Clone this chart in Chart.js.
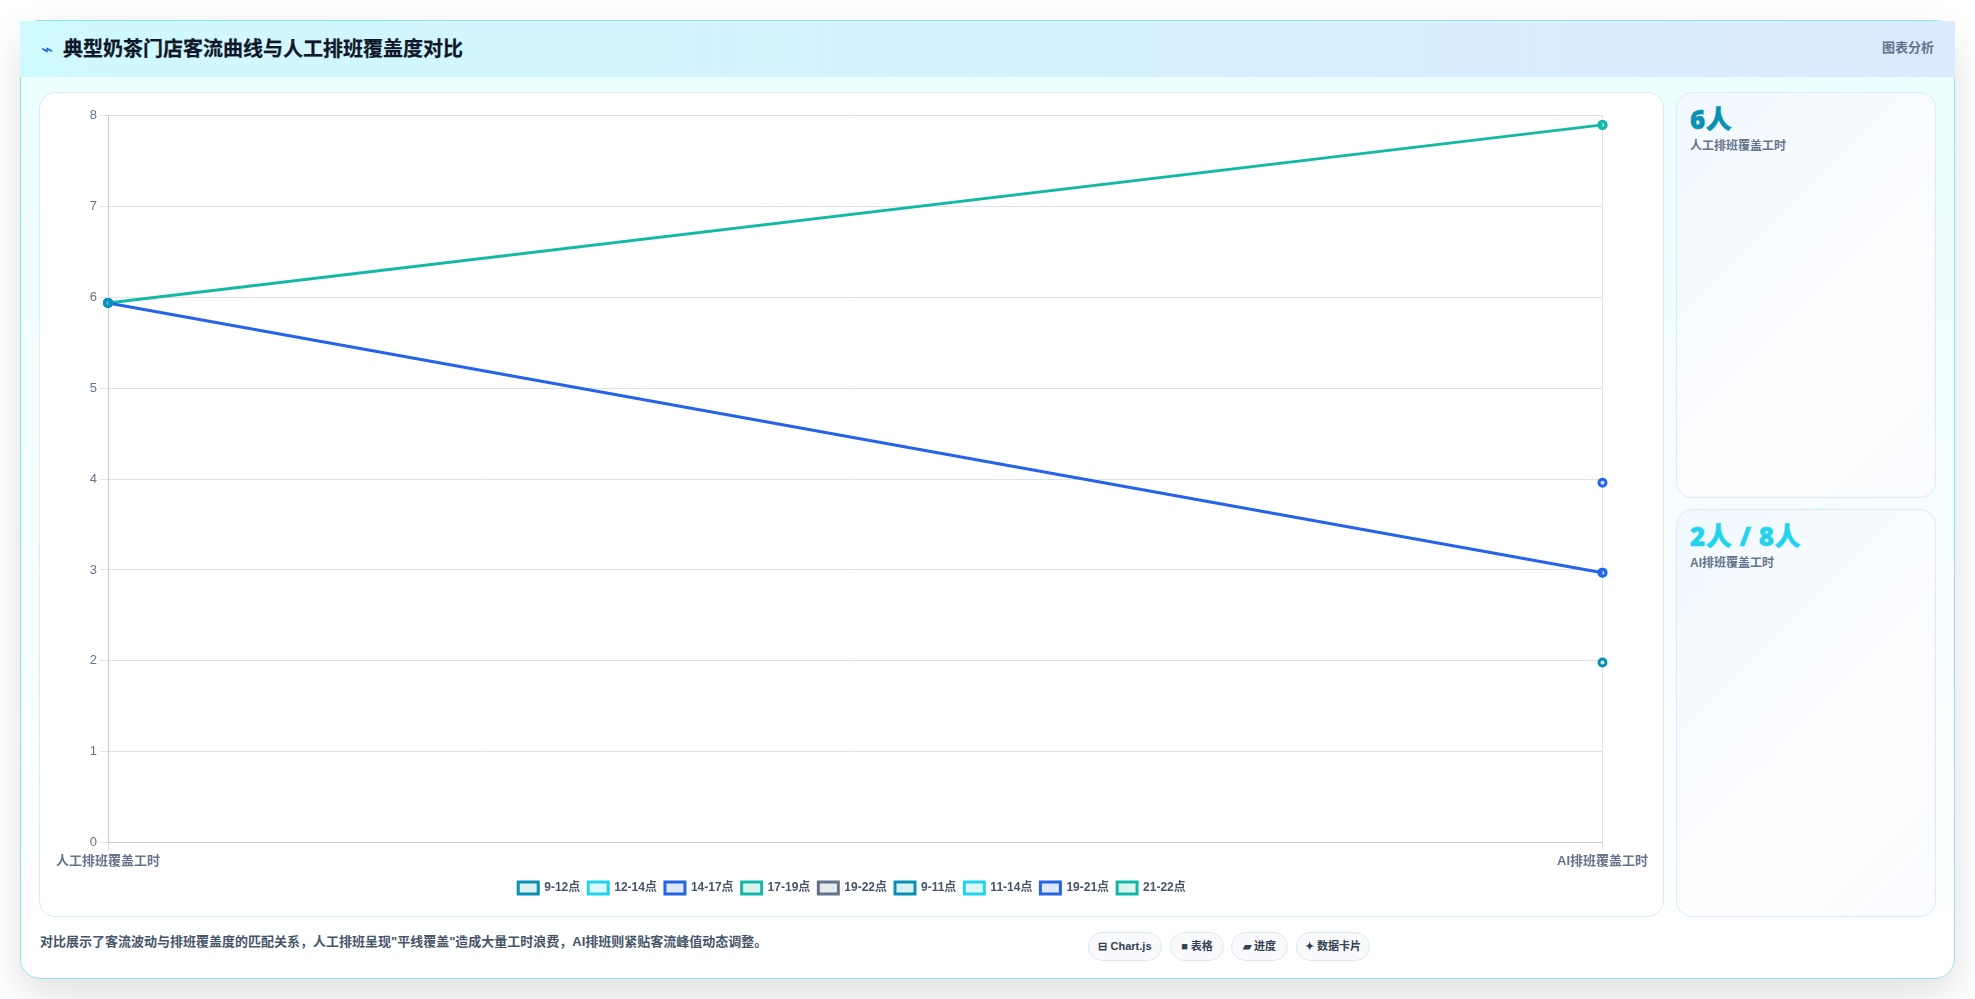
<!DOCTYPE html>
<html lang="zh-CN">
<head>
<meta charset="utf-8">
<title>典型奶茶门店客流曲线与人工排班覆盖度对比</title>
<script src="https://cdn.jsdelivr.net/npm/chart.js@4"></script>
<style>
  * { box-sizing: border-box; margin: 0; padding: 0; }
  html, body { width: 1975px; height: 999px; overflow: hidden; background: #fff;
    font-family: "Liberation Sans", "Noto Sans CJK SC", sans-serif; }
  .card { position: absolute; left: 20px; top: 20px; width: 1935px; height: 959px;
    border: 1.5px solid #8ee3ef; border-radius: 20px; box-shadow: 0 18px 45px rgba(0,0,0,.12);
    background: linear-gradient(180deg, #ecfeff 0%, #f8feff 70%, #ffffff 100%); }
  .head { position: absolute; left: -1px; top: 0; width: 1935px; height: 56px;
    background: linear-gradient(90deg, #cffafe 0%, #dbeafe 100%); }
  .head h1 { position: absolute; left: 43px; top: 14px; font-size: 20px; line-height: 28px; font-weight: 700; color: #0f172a; -webkit-text-stroke: .25px #0f172a; }
  .head .bolt { position: absolute; left: 21px; top: 15px; font-size: 20px; line-height: 26px; color: #2563eb; }
  .head .tag { position: absolute; right: 21px; top: 17px; font-size: 13px; line-height: 20px; font-weight: 600; color: #64748b; }
  .plot { position: absolute; left: 39px; top: 92px; width: 1625px; height: 825px; background: #fff;
    border: 1px solid #e2e8f0; border-radius: 16px; }
  .plot canvas { position: absolute; left: 13px; top: 12px; }
  .stat { position: absolute; width: 260px; border: 1px solid #dbeafe; border-radius: 16px;
    background: linear-gradient(135deg, #f0f9ff 0%, #fdfdff 60%, #fbfcff 100%); }
  .stat b { position: absolute; left: 13px; top: 9px; font-size: 26px; line-height: 34px; font-weight: 900;
    font-family: "Open Sans", "Noto Sans CJK SC", sans-serif; letter-spacing: .5px; -webkit-text-stroke: .4px currentColor; }
  .stat span { position: absolute; left: 13px; top: 44px; font-size: 12px; line-height: 18px; font-weight: 600; color: #64748b; }
  .note { position: absolute; left: 19px; top: 911px; font-size: 13px; line-height: 20px; font-weight: 600; color: #475569; }
  .chip { position: absolute; top: 911px; height: 29px; border: 1px solid #e2e8f0; border-radius: 15px; background: #f8fafc;
    font-size: 11px; line-height: 27px; font-weight: 700; color: #334155; text-align: center; white-space: nowrap; }
</style>
</head>
<body>
<div class="card">
  <div class="head">
    <span class="bolt">⌁</span>
    <h1>典型奶茶门店客流曲线与人工排班覆盖度对比</h1>
    <span class="tag">图表分析</span>
  </div>
  <div class="stat" style="left:1655px;top:71px;height:406px;"><b style="color:#0891b2">6人</b><span>人工排班覆盖工时</span></div>
  <div class="stat" style="left:1655px;top:488px;height:408px;"><b style="color:#22d3ee">2人 / 8人</b><span>AI排班覆盖工时</span></div>
  <div class="note">对比展示了客流波动与排班覆盖度的匹配关系，人工排班呈现"平线覆盖"造成大量工时浪费，AI排班则紧贴客流峰值动态调整。</div>
  <div class="chip" style="left:1067px;width:74px;">⊟ Chart.js</div>
  <div class="chip" style="left:1149px;width:54px;">■ 表格</div>
  <div class="chip" style="left:1210px;width:57px;">▰ 进度</div>
  <div class="chip" style="left:1275px;width:74px;">✦ 数据卡片</div>
</div>
<div class="plot"><canvas id="chart" width="1598" height="797"></canvas></div>
<script>
  // Two schedules compared across their time bands
  const categories = ['人工排班覆盖工时', 'AI排班覆盖工时'];
  const bandNames = ['9-12点', '12-14点', '14-17点', '17-19点', '19-22点', '9-11点', '11-14点', '19-21点', '21-22点'];
  const manualHours = [5.94, 5.94, 5.94, 5.94, 5.94, null, null, null, null];
  const aiHours = [null, null, 2.97, 7.9, null, 1.98, 2.97, 3.96, 7.9];
  const bandColors = ['#0891b2', '#22d3ee', '#2563eb', '#14b8a6', '#64748b', '#0891b2', '#22d3ee', '#2563eb', '#14b8a6'];
  const bandFills = ['rgba(8,145,178,.15)', 'rgba(34,211,238,.15)', 'rgba(37,99,235,.15)', 'rgba(20,184,166,.15)', 'rgba(100,116,139,.15)',
                     'rgba(8,145,178,.15)', 'rgba(34,211,238,.15)', 'rgba(37,99,235,.15)', 'rgba(20,184,166,.15)'];
  const yTicks = [0, 1, 2, 3, 4, 5, 6, 7, 8];

  // Leaves a little more air between the category labels and the legend
  const legendGap = {
    id: 'legendGap',
    afterLayout(chart) { chart.legend.top += 2; }
  };

  new Chart(document.getElementById('chart'), {
    type: 'line',
    plugins: [legendGap],
    data: {
      labels: categories,
      datasets: bandNames.map((name, i) => ({
        label: name,
        data: [manualHours[i], aiHours[i]],
        borderColor: bandColors[i],
        backgroundColor: bandFills[i],
        borderWidth: 3,
        pointRadius: 3.5,
        pointBorderWidth: 3,
        pointBackgroundColor: bandFills[i],
        pointBorderColor: bandColors[i],
        tension: 0
      }))
    },
    options: {
      responsive: false,
      animation: false,
      scales: {
        x: {
          grid: { color: '#dde3ea' },
          border: { color: '#c3cad6' },
          ticks: { color: '#64748b', font: { family: '"Liberation Sans","Noto Sans CJK SC"', size: 13, weight: '600' }, maxRotation: 0 }
        },
        y: {
          min: 0, max: 8,
          afterBuildTicks: axis => { axis.ticks = yTicks.map(value => ({ value })); },
          grid: { color: '#dde3ea' },
          border: { color: '#c3cad6' },
          ticks: { color: '#64748b', font: { family: '"Liberation Sans"', size: 13 } }
        }
      },
      plugins: {
        legend: {
          position: 'bottom',
          labels: { color: '#475569', boxWidth: 20, boxHeight: 12, padding: 8, font: { family: '"Liberation Sans","Noto Sans CJK SC"', size: 12, weight: '600' } }
        },
        tooltip: { enabled: false }
      }
    }
  });
</script>
</body>
</html>
